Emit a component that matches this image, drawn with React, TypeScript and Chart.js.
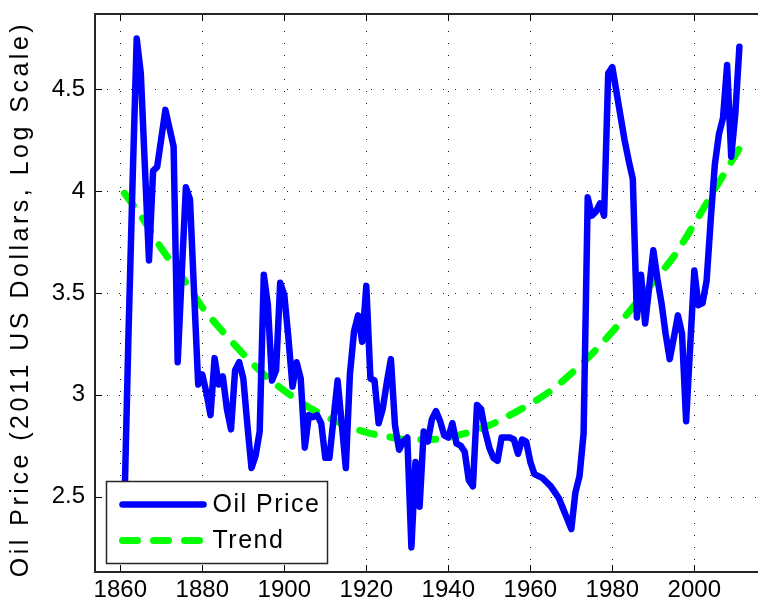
import React, { useEffect, useRef } from 'react';
import { Chart, registerables } from 'chart.js';

Chart.register(...registerables);

// ---------------- data ----------------
const START_YEAR = 1861;

// log real oil price, one value per year 1861..2011
const oilPrice: number[] = [
  // 1861-1870
  2.45, 3.30, 4.05, 4.75, 4.58, 4.12, 3.66, 4.10, 4.12, 4.26,
  // 1871-1880
  4.40, 4.31, 4.22, 3.16, 3.60, 4.02, 3.96, 3.50, 3.05, 3.10,
  // 1881-1890
  3.01, 2.90, 3.18, 3.05, 3.09, 2.93, 2.83, 3.12, 3.16, 3.08,
  // 1891-1900
  2.85, 2.64, 2.70, 2.82, 3.59, 3.44, 3.07, 3.12, 3.55, 3.49,
  // 1901-1910
  3.28, 3.04, 3.16, 3.08, 2.74, 2.90, 2.89, 2.90, 2.86, 2.69,
  // 1911-1920
  2.69, 2.88, 3.07, 2.86, 2.64, 3.10, 3.31, 3.39, 3.26, 3.535,
  // 1921-1930
  3.08, 3.07, 2.86, 2.93, 3.06, 3.175, 2.85, 2.73, 2.77, 2.79,
  // 1931-1940
  2.25, 2.67, 2.45, 2.82, 2.77, 2.88, 2.92, 2.87, 2.80, 2.79,
  // 1941-1950
  2.86, 2.76, 2.75, 2.72, 2.58, 2.55, 2.95, 2.93, 2.82, 2.74,
  // 1951-1960
  2.69, 2.675, 2.79, 2.79, 2.79, 2.78, 2.71, 2.78, 2.77, 2.67,
  // 1961-1970
  2.61, 2.60, 2.59, 2.57, 2.55, 2.52, 2.49, 2.44, 2.39, 2.34,
  // 1971-1980
  2.52, 2.60, 2.81, 3.97, 3.88, 3.90, 3.94, 3.88, 4.58, 4.61,
  // 1981-1990
  4.49, 4.37, 4.25, 4.15, 4.06, 3.38, 3.59, 3.35, 3.53, 3.71,
  // 1991-2000
  3.57, 3.45, 3.30, 3.175, 3.28, 3.39, 3.30, 2.87, 3.24, 3.61,
  // 2001-2011
  3.44, 3.45, 3.56, 3.86, 4.13, 4.28, 4.36, 4.62, 4.17, 4.38, 4.71,
];
const years: number[] = oilPrice.map((_, i) => START_YEAR + i);

const trendYears: number[] = [
  1861, 1865, 1870, 1875, 1880, 1885, 1890, 1895, 1900, 1905, 1910,
  1915, 1920, 1925, 1930, 1935, 1940, 1945, 1950, 1955, 1960, 1965,
  1970, 1975, 1980, 1985, 1990, 1995, 2000, 2005, 2011,
];
const trendValues: number[] = [
  3.99, 3.88, 3.72, 3.58, 3.43, 3.31, 3.20, 3.10, 3.02, 2.95, 2.895,
  2.85, 2.815, 2.795, 2.78, 2.78, 2.79, 2.815, 2.85, 2.90, 2.955, 3.02,
  3.105, 3.20, 3.31, 3.43, 3.555, 3.68, 3.84, 4.01, 4.21,
];

const xTicks: number[] = [1860, 1880, 1900, 1920, 1940, 1960, 1980, 2000];
const yTicks: number[] = [2.5, 3, 3.5, 4, 4.5];
const yTickLabels: string[] = ['2.5', '3', '3.5', '4', '4.5'];
const seriesLabels: string[] = ['Oil Price', 'Trend'];
const yTitle = 'Oil Price (2011 US Dollars, Log Scale)';

// ---------------- styling ----------------
const FONT = "'Liberation Sans', Arial, Helvetica, sans-serif";
const BLUE = '#0000ff';
const GREEN = '#00ff00';

const spacingPlugin = {
  id: 'spacing',
  beforeDraw(chart: any) {
    const s = chart.scales.y;
    if (s && !s.__patched) {
      const orig = s.drawTitle.bind(s);
      s.drawTitle = function () {
        const c = chart.ctx;
        c.save();
        c.letterSpacing = '3.5px';
        c.translate(0, 6);
        orig();
        c.restore();
      };
      s.__patched = true;
    }
  },
};

const framePlugin = {
  id: 'frame',
  beforeDatasetsDraw(chart: any) {
    const { ctx, chartArea: a, scales } = chart;
    const xs = scales.x;
    const ys = scales.y;
    ctx.save();
    // dotted grid
    ctx.strokeStyle = '#1a1a1a';
    ctx.lineWidth = 1;
    ctx.setLineDash([1, 11]);
    xTicks.forEach((v) => {
      const px = Math.round(xs.getPixelForValue(v)) + 0.5;
      ctx.beginPath();
      ctx.moveTo(px, a.bottom);
      ctx.lineTo(px, a.top);
      ctx.stroke();
    });
    yTicks.forEach((v) => {
      const py = Math.round(ys.getPixelForValue(v)) + 0.5;
      ctx.beginPath();
      ctx.moveTo(a.left, py);
      ctx.lineTo(a.right, py);
      ctx.stroke();
    });
    ctx.setLineDash([]);
    // inward ticks
    ctx.strokeStyle = '#000';
    ctx.lineWidth = 1;
    const tl = 7;
    xTicks.forEach((v) => {
      const px = Math.round(xs.getPixelForValue(v)) + 0.5;
      ctx.beginPath();
      ctx.moveTo(px, a.bottom);
      ctx.lineTo(px, a.bottom - tl);
      ctx.moveTo(px, a.top);
      ctx.lineTo(px, a.top + tl);
      ctx.stroke();
    });
    yTicks.forEach((v) => {
      const py = Math.round(ys.getPixelForValue(v)) + 0.5;
      ctx.beginPath();
      ctx.moveTo(a.left, py);
      ctx.lineTo(a.left + tl, py);
      ctx.moveTo(a.right, py);
      ctx.lineTo(a.right - tl, py);
      ctx.stroke();
    });
    // axes box
    ctx.strokeStyle = '#262626';
    ctx.lineWidth = 2;
    ctx.strokeRect(Math.round(a.left), Math.round(a.top), Math.round(a.right - a.left), Math.round(a.bottom - a.top));
    ctx.restore();
  },
};

const legendPlugin = {
  id: 'boxLegend',
  afterDraw(chart: any) {
    const { ctx, chartArea: a } = chart;
    const bx = Math.round(a.left + 11) + 0.5;
    const bw = 221;
    const bh = 82;
    const by = Math.round(a.bottom - 9 - bh) + 0.5;
    ctx.save();
    ctx.fillStyle = '#ffffff';
    ctx.fillRect(bx, by, bw, bh);
    ctx.strokeStyle = '#262626';
    ctx.lineWidth = 1.5;
    ctx.strokeRect(bx, by, bw, bh);
    const ds = chart.data.datasets;
    const rows = [by + 23, by + 59];
    ds.forEach((d: any, i: number) => {
      const y = rows[i];
      ctx.beginPath();
      ctx.strokeStyle = d.borderColor;
      ctx.lineWidth = d.borderWidth;
      ctx.lineCap = 'round';
      ctx.setLineDash(d.borderDash || []);
      ctx.moveTo(bx + 16, y);
      ctx.lineTo(bx + 97, y);
      ctx.stroke();
      ctx.setLineDash([]);
      ctx.fillStyle = '#000';
      ctx.font = `25px ${FONT}`;
      (ctx as any).letterSpacing = '1.5px';
      ctx.textBaseline = 'middle';
      ctx.textAlign = 'left';
      ctx.fillText(d.label, bx + 106, y + 1);
      (ctx as any).letterSpacing = '0px';
    });
    ctx.restore();
  },
};

export default function App() {
  const ref = useRef<HTMLCanvasElement | null>(null);

  useEffect(() => {
    if (!ref.current) return;
    const chart = new Chart(ref.current, {
      type: 'line',
      data: {
        datasets: [
          {
            label: seriesLabels[0],
            data: years.map((x, i) => ({ x, y: oilPrice[i] })),
            borderColor: BLUE,
            borderWidth: 6.5,
            pointRadius: 0,
            borderJoinStyle: 'round',
            borderCapStyle: 'round',
            tension: 0,
            fill: false,
          },
          {
            label: seriesLabels[1],
            data: trendYears.map((x, i) => ({ x, y: trendValues[i] })),
            borderColor: GREEN,
            borderWidth: 7,
            borderDash: [15, 16],
            borderCapStyle: 'round',
            pointRadius: 0,
            cubicInterpolationMode: 'monotone',
            fill: false,
          },
        ],
      },
      options: {
        animation: false,
        responsive: false,
        devicePixelRatio: 1,
        layout: { padding: { top: 14, right: 5, left: 0, bottom: 0 } },
        plugins: { legend: { display: false }, tooltip: { enabled: false } },
        scales: {
          x: {
            type: 'linear',
            min: 1853.83,
            max: 2017.24,
            afterBuildTicks: (s: any) => {
              s.ticks = xTicks.map((v) => ({ value: v }));
            },
            afterFit: (s: any) => {
              s.height = 33;
              s.paddingLeft = 0;
              s.paddingRight = 0;
            },
            grid: { display: false, drawTicks: false },
            border: { display: false },
            ticks: {
              color: '#000',
              font: { family: FONT, size: 24 },
              padding: 4,
              maxRotation: 0,
              autoSkip: false,
              callback: (v: any) => String(v),
            },
          },
          y: {
            type: 'linear',
            min: 2.129,
            max: 4.871,
            afterBuildTicks: (s: any) => {
              s.ticks = yTicks.map((v) => ({ value: v }));
            },
            afterFit: (s: any) => {
              s.width = 95;
              s.paddingTop = 0;
              s.paddingBottom = 0;
            },
            grid: { display: false, drawTicks: false },
            border: { display: false },
            ticks: {
              color: '#000',
              font: { family: FONT, size: 24 },
              padding: 10,
              autoSkip: false,
              callback: (v: any) => {
                const i = yTicks.indexOf(Number(v));
                return i >= 0 ? yTickLabels[i] : '';
              },
            },
            title: {
              display: true,
              text: yTitle,
              color: '#000',
              font: { family: FONT, size: 25 },
              padding: { top: 6, bottom: 0 },
            },
          },
        },
      },
      plugins: [spacingPlugin, framePlugin, legendPlugin],
    } as any);
    return () => chart.destroy();
  }, []);

  return (
    <canvas
      ref={ref}
      width={770}
      height={605}
      style={{ position: 'fixed', left: 0, top: 0, width: 770, height: 605 }}
    />
  );
}
